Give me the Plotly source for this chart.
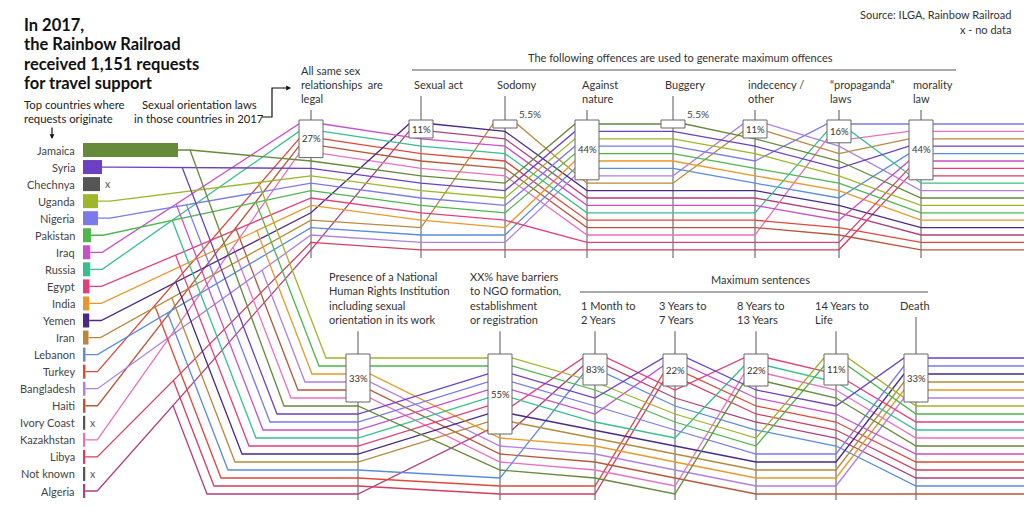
import plotly.graph_objects as go

# ---------------- DATA ----------------
countries = ["Jamaica", "Syria", "Chechnya", "Uganda", "Nigeria", "Pakistan", "Iraq",
             "Russia", "Egypt", "India", "Yemen", "Iran", "Lebanon", "Turkey",
             "Bangladesh", "Haiti", "Ivory Coast", "Kazakhstan", "Libya", "Not known", "Algeria"]
requests = [380, 76, 68, 60, 60, 32, 29, 29, 26, 25, 25, 22, 10, 10, 10, 10, 9, 9, 9, 9, 9]
no_data = ["Chechnya", "Ivory Coast", "Not known"]
colors = ["#648a3a", "#6b40c2", "#555555", "#9fb52a", "#7b7be8", "#4cb74c", "#c850c8",
          "#38bf8e", "#e23f7c", "#e8992c", "#4a2a86", "#b8893c", "#5b8be0", "#e0483a",
          "#b080e0", "#b8583a", "#555555", "#ea70be", "#d43d5e", "#555555", "#b0407e"]

law_titles = ["All same sex\nrelationships  are\nlegal", "Sexual act", "Sodomy", "Against\nnature",
              "Buggery", "indecency /\nother", "\u201cpropaganda\u201d\nlaws", "morality\nlaw"]
law_share = ["27%", "11%", "5.5%", "44%", "5.5%", "11%", "16%", "44%"]
law_members = [
    ["Iraq", "Russia", "Turkey", "Haiti", "Kazakhstan"],
    ["Yemen", "Algeria"],
    ["Iran"],
    ["Jamaica", "Syria", "Uganda", "Nigeria", "Pakistan", "India", "Lebanon", "Bangladesh"],
    ["Jamaica"],
    ["Bangladesh", "Iran"],
    ["Russia", "Nigeria", "Kazakhstan"],
    ["Nigeria", "Kazakhstan", "Iraq", "Syria", "Lebanon", "Iran", "Egypt", "Libya"],
]

rights_titles = ["Presence of a National\nHuman Rights Institution\nincluding sexual\norientation in its work",
                 "XX% have barriers\nto NGO formation,\nestablishment\nor registration",
                 "1 Month to\n2 Years", "3 Years to\n7 Years", "8 Years to\n13 Years",
                 "14 Years to\nLife", "Death"]
rights_share = ["33%", "55%", "83%", "22%", "22%", "11%", "33%"]
rights_members = [
    ["Uganda", "Pakistan", "India", "Bangladesh", "Haiti", "Kazakhstan"],
    ["Syria", "Uganda", "Nigeria", "Iraq", "Russia", "Egypt", "Yemen", "Iran", "Pakistan", "Algeria"],
    ["Lebanon", "Algeria", "Egypt"],
    ["Syria", "Libya", "Iraq", "Turkey"],
    ["Jamaica", "Egypt", "Kazakhstan", "Russia"],
    ["Uganda", "Pakistan"],
    ["Nigeria", "Yemen", "Iran", "India", "Bangladesh", "Syria"],
]

# ---------------- LAYOUT CONSTANTS ----------------
W, H = 1024, 512
FONT = "Lato"
BAR_X0 = 83
PX_PER_REQ = 0.25
BAR_Y0, BAR_STEP = 150, 17.05
LAW_X = [311, 421, 505, 587, 673, 755, 839, 921]
LAW_LABEL_X = [299, 412, 495, 580, 663, 746, 828, 911]
RIGHTS_X = [358, 500, 595, 675, 756, 836, 916]
RIGHTS_LABEL_X = [327, 468, 579, 657, 735, 813, 898]
TOP_Y0, TOP_SP = 124, 7.4
BOT_Y0, BOT_SP = 358, 8.0
BOX_W = 24
STEEP = 2.6

data_countries = [c for c in countries if c not in no_data]
col = dict(zip(countries, colors))
bar_y = {c: BAR_Y0 + i * BAR_STEP for i, c in enumerate(countries)}
bar_end = {c: BAR_X0 + v * PX_PER_REQ for c, v in zip(countries, requests)}


def panel(members_list, axes_x, y0, sp):
    order = list(data_countries)
    pts = {c: [] for c in data_countries}
    boxes = []
    for mem, ax in zip(members_list, axes_x):
        yes = [c for c in order if c in mem]
        no = [c for c in order if c not in mem]
        order = yes + no
        for r, c in enumerate(order):
            y = y0 + r * sp
            if c in mem:
                pts[c] += [(ax - BOX_W / 2, y), (ax + BOX_W / 2, y)]
            else:
                pts[c].append((ax, y))
        boxes.append((ax, len(yes)))
    return pts, boxes


top_pts, top_boxes = panel(law_members, LAW_X, TOP_Y0, TOP_SP)
bot_pts, bot_boxes = panel(rights_members, RIGHTS_X, BOT_Y0, BOT_SP)

first_bot_rank = {}
order0 = [c for c in data_countries if c in rights_members[0]] + \
         [c for c in data_countries if c not in rights_members[0]]
for r, c in enumerate(order0):
    first_bot_rank[c] = r

fig = go.Figure()

# bars
fig.add_trace(go.Bar(y=[bar_y[c] for c in countries], x=requests, orientation="h",
                     marker=dict(color=colors, line=dict(width=0)), width=14,
                     xaxis="x2", yaxis="y", hoverinfo="skip", showlegend=False))

# lines
for c in reversed(data_countries):
    bx, by = bar_end[c], bar_y[c]
    kx = bx + 12
    p1 = top_pts[c][0]
    xs = [bx, kx] + [p[0] for p in top_pts[c]] + [W]
    ys = [by, by] + [p[1] for p in top_pts[c]] + [top_pts[c][-1][1]]
    rank = first_bot_rank[c]
    yb = bot_pts[c][0][1]
    tx = 326 - 7 * rank
    dx, dy = p1[0] - kx, p1[1] - by
    den = dy - STEEP * dx
    t = 0.0
    if den != 0:
        t = (yb - by - STEEP * (tx - kx)) / den
    t = min(max(t, 0.0), 0.9)
    brx, bry = kx + t * dx, by + t * dy
    xb = [brx, tx] + [p[0] for p in bot_pts[c]] + [W]
    ybs = [bry, yb] + [p[1] for p in bot_pts[c]] + [bot_pts[c][-1][1]]
    for X, Y in ((xb, ybs), (xs, ys)):
        fig.add_trace(go.Scatter(x=X, y=Y, mode="lines", line=dict(color=col[c], width=1.3),
                                 xaxis="x", yaxis="y", hoverinfo="skip", showlegend=False))

shapes = []
annotations = []


def txt(x, y, s, size=12, color="#333", anchor="left", bold=False):
    annotations.append(dict(x=x, y=y, xref="x", yref="y", text=("<b>%s</b>" % s) if bold else s,
                            showarrow=False, xanchor=anchor, yanchor="middle",
                            font=dict(family=FONT, size=size, color=color)))


def draw_axes(titles, shares, boxes, label_x, first_line_y, line_sp, y_bottom, box_top, y0, sp,
              min_h):
    for title, share, (ax, k), lx in zip(titles, shares, boxes, label_x):
        lines = title.split("\n")
        start = first_line_y - line_sp * max(0, len(lines) - 2)
        for i, ln in enumerate(lines):
            txt(lx, start + i * line_sp, ln, size=11, color="#333")
        axis_top = start + (len(lines) - 1) * line_sp + 12
        shapes.append(dict(type="line", xref="x", yref="y", x0=ax, x1=ax, y0=axis_top, y1=y_bottom,
                           line=dict(color="#555", width=1), layer="below"))
        if k == 1:
            b0, b1 = y0 - 4, y0 + 4
        else:
            b0 = box_top
            b1 = max(y0 + (k - 1) * sp + 4, box_top + min_h)
        shapes.append(dict(type="rect", xref="x", yref="y", x0=ax - BOX_W / 2, x1=ax + BOX_W / 2,
                           y0=b0, y1=b1, fillcolor="white", line=dict(color="#666", width=1),
                           layer="above"))
        if k == 1:
            txt(ax + 12, b0 - 6, share, size=10, color="#444")
        else:
            txt(ax, (b0 + b1) / 2, share, size=9.5, color="#333", anchor="center")


draw_axes(law_titles, law_share, top_boxes, LAW_LABEL_X, 84, 14, 258, TOP_Y0 - 4, TOP_Y0, TOP_SP, 18)
draw_axes(rights_titles, rights_share, bot_boxes, RIGHTS_LABEL_X, 305, 14.3, 500, BOT_Y0 - 4,
          BOT_Y0, BOT_SP, 31)

txt(680, 57, "The following offences are used to generate maximum offences", size=11, anchor="center")
shapes.append(dict(type="line", xref="x", yref="y", x0=412, x1=956, y0=70, y1=70,
                   line=dict(color="#555", width=1)))
txt(760, 279, "Maximum sentences", size=11, anchor="center")
shapes.append(dict(type="line", xref="x", yref="y", x0=580, x1=928, y0=292, y1=292,
                   line=dict(color="#555", width=1)))

for c in countries:
    txt(77, bar_y[c], c, size=11, color="#444", anchor="right")
    if c in no_data:
        txt(bar_end[c] + 3, bar_y[c], "x", size=10.5, color="#555")

for i, ln in enumerate(["In 2017,", "the Rainbow Railroad", "received 1,151 requests", "for travel support"]):
    txt(22, 24.5 + i * 19.6, ln, size=16.5, color="#111", bold=True)
txt(22, 104, "Top countries where", size=11.3, color="#222")
txt(22, 118, "requests originate", size=11.3, color="#222")
txt(199, 104, "Sexual orientation laws", size=11.3, color="#222", anchor="center")
txt(199, 118, "in those countries in 2017", size=11.3, color="#222", anchor="center")
txt(1013, 14, "Source: ILGA, Rainbow Railroad", size=11, color="#333", anchor="right")
txt(1013, 29, "x - no data", size=11, color="#333", anchor="right")

annotations.append(dict(x=52, y=139, ax=52, ay=126, xref="x", yref="y", axref="x", ayref="y",
                        text="", showarrow=True, arrowhead=2, arrowsize=0.8, arrowwidth=1.2,
                        arrowcolor="#111"))
shapes.append(dict(type="path", xref="x", yref="y", path="M 262 117 L 272 117 L 272 88 L 284 88",
                   line=dict(color="#111", width=1.2)))
annotations.append(dict(x=291, y=88, ax=282, ay=88, xref="x", yref="y", axref="x", ayref="y",
                        text="", showarrow=True, arrowhead=2, arrowsize=0.8, arrowwidth=1.2,
                        arrowcolor="#111"))

fig.update_layout(
    width=W, height=H, margin=dict(l=0, r=0, t=0, b=0),
    paper_bgcolor="white", plot_bgcolor="rgba(0,0,0,0)", showlegend=False,
    xaxis=dict(range=[0, W], visible=False, fixedrange=True),
    xaxis2=dict(domain=[BAR_X0 / W, 1], range=[0, (W - BAR_X0) / PX_PER_REQ], visible=False,
                anchor="y", fixedrange=True),
    yaxis=dict(range=[H, 0], visible=False, fixedrange=True),
    shapes=shapes, annotations=annotations,
    font=dict(family=FONT),
)

fig.write_html("out.html", post_script="document.body.style.margin='0';",
               config={"displayModeBar": False})
